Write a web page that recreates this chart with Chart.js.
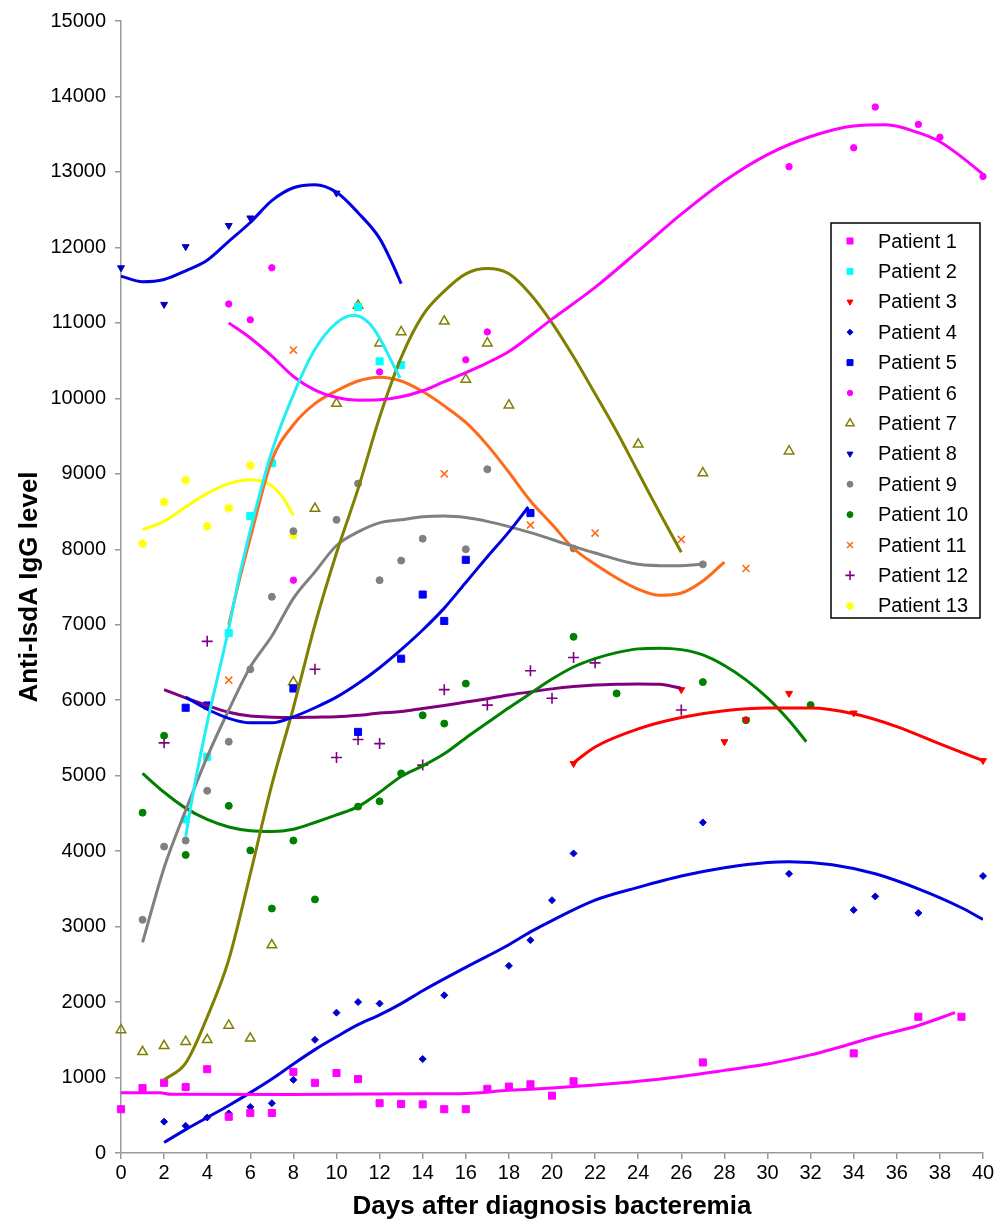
<!DOCTYPE html>
<html>
<head>
<meta charset="utf-8">
<script src="https://cdn.jsdelivr.net/npm/chart.js@4.4.0/dist/chart.umd.min.js"></script>
<style>
  html, body { margin: 0; padding: 0; background: #fff; }
  canvas { display: block; }
</style>
</head>
<body>
<canvas id="igg" width="1005" height="1225"></canvas>
<script>
// measured levels per patient, [day, level]
const patient1 = [[0,580],[1,860],[2,930],[3,875],[4,1110],[5,480],[6,530],[7,530],[8,1075],[9,930],[10,1060],[11,980],[12,660],[13,650],[14,645],[15,580],[16,580],[17,850],[18,880],[19,910],[20,760],[21,950],[27,1200],[34,1320],[37,1805],[39,1805]];
const patient2 = [[3,4420],[4,5250],[5,6890],[6,8440],[7,9140],[11,11210],[12,10490],[13,10440]];
const patient3 = [[21,5160],[26,6140],[28,5450],[29,5740],[31,6090],[34,5830],[40,5200]];
const patient4 = [[2,415],[3,360],[4,470],[5,525],[6,610],[7,660],[8,970],[9,1500],[10,1860],[11,2000],[12,1980],[14,1245],[15,2090],[18,2480],[19,2820],[20,3350],[21,3970],[27,4380],[31,3700],[34,3220],[35,3400],[37,3180],[40,3670]];
const patient5 = [[3,5900],[4,5930],[8,6155],[11,5580],[13,6550],[14,7400],[15,7050],[16,7860],[19,8480]];
const patient6 = [[5,11250],[6,11040],[7,11730],[8,7590],[12,10350],[16,10510],[17,10880],[31,13070],[34,13320],[35,13860],[37,13630],[38,13460],[40,12940]];
const patient7 = [[0,1630],[1,1340],[2,1420],[3,1475],[4,1500],[5,1690],[6,1520],[7,2755],[8,6240],[9,8540],[10,9930],[11,11230],[12,10730],[13,10880],[15,11020],[16,10250],[17,10730],[18,9910],[24,9390],[27,9010],[31,9300]];
const patient8 = [[0,11730],[2,11245],[3,12010],[5,12290],[6,12390],[10,12720]];
const patient9 = [[1,3090],[2,4060],[3,4140],[4,4800],[5,5450],[6,6410],[7,7370],[8,8240],[10,8390],[11,8870],[12,7590],[13,7850],[14,8140],[16,8000],[17,9060],[21,8010],[27,7800]];
const patient10 = [[1,4510],[2,5530],[3,3950],[5,4600],[6,4010],[7,3240],[8,4140],[9,3360],[11,4590],[12,4660],[13,5030],[14,5800],[15,5690],[16,6220],[21,6840],[23,6090],[27,6240],[29,5735],[32,5935]];
const patient11 = [[5,6265],[8,10640],[15,9000],[19,8320],[22,8215],[26,8130],[29,7745]];
const patient12 = [[2,5435],[4,6780],[9,6410],[10,5240],[11,5480],[12,5425],[14,5140],[15,6140],[17,5935],[19,6390],[20,6025],[21,6565],[22,6495],[26,5870]];
const patient13 = [[1,8075],[2,8625],[3,8915],[4,8305],[5,8545],[6,9110],[7,9145],[8,8185]];

// trendlines, [day, level]
const trend1 = [[0,800],[1.8,800],[2.3,778],[8,775],[14,785],[16,790],[18,830],[20,860],[22,900],[24,950],[26,1015],[28,1095],[30,1180],[32,1300],[33,1375],[35,1540],[37,1690],[38.7,1860]];
const trend2 = [[3,4190],[3.4,4850],[4,5700],[5,6950],[5.5,7650],[6,8250],[6.5,8800],[7,9300],[8,10050],[9,10650],[10,11000],[10.8,11100],[11.5,11000],[12,10800],[12.5,10520],[12.95,10270]];
const trend3 = [[21,5170],[22,5380],[24,5620],[26,5770],[28,5860],[30,5895],[32,5895],[34,5820],[36,5650],[38,5420],[40,5200]];
const trend4 = [[2,140],[3,310],[4,470],[5,630],[6,800],[7,980],[8,1180],[9,1370],[10,1540],[11,1700],[12,1830],[13,1980],[14,2150],[16,2460],[18,2760],[19,2930],[20,3080],[22,3350],[24,3520],[26,3670],[28,3780],[30,3850],[31,3860],[33,3820],[35,3700],[37,3500],[39,3250],[40,3095]];
const trend5 = [[3,6040],[4,5880],[5,5760],[6,5700],[7,5700],[8,5780],[9,5900],[10,6040],[11,6220],[12,6430],[13,6670],[14,6930],[15,7220],[16,7560],[17,7900],[18,8230],[18.9,8560]];
const trend6 = [[5,11000],[6,10800],[7,10560],[8,10290],[9,10110],[10,10010],[11,9975],[12,9980],[13,10020],[14,10100],[15,10220],[16,10340],[17,10470],[18,10620],[20,11050],[22,11470],[24,11950],[26,12440],[28,12880],[30,13230],[32,13470],[34,13610],[35.5,13625],[37,13520],[38,13400],[39,13200],[40,12970]];
const trend7 = [[2,970],[3,1190],[4,1800],[5,2560],[6,3700],[7,4880],[8,5900],[9,7000],[10,7950],[11,8800],[12,9750],[13,10540],[14,11100],[15,11420],[16,11650],[17,11720],[18,11650],[19,11380],[20,11000],[21,10550],[22,10060],[23,9560],[24,9020],[25,8480],[26,7960]];
const trend8 = [[0,11620],[1,11545],[2,11575],[3,11690],[4,11830],[5,12080],[6,12330],[7,12620],[8,12790],[9,12830],[10,12730],[11,12460],[12,12120],[12.6,11780],[13,11520]];
const trend9 = [[1,2790],[2,3780],[3,4540],[4,5250],[5,5870],[6,6440],[7,6850],[8,7350],[9,7700],[10,8050],[11,8230],[12,8350],[13,8390],[14,8430],[15,8440],[16,8420],[17,8370],[18,8300],[19,8220],[20,8130],[22,7950],[24,7800],[25.5,7780],[27,7800]];
const trend10 = [[1,5030],[2,4780],[3,4570],[4,4420],[5,4320],[6,4270],[7,4260],[8,4290],[9,4380],[10,4480],[11,4590],[12,4780],[13,4990],[14,5130],[15,5290],[16,5500],[17,5700],[18,5900],[19,6090],[20,6280],[21,6440],[22,6550],[23,6630],[24,6680],[25,6690],[26,6670],[27,6600],[28,6460],[29,6270],[30,6030],[31,5730],[31.8,5450]];
const trend11 = [[5,7000],[5.5,7600],[6,8150],[7,9180],[8,9650],[9,9930],[10,10100],[11,10230],[12,10280],[13,10230],[14,10090],[15,9900],[16,9680],[17,9380],[18,9020],[19,8640],[20,8330],[21,8010],[22,7800],[23,7620],[24,7470],[25,7390],[26,7420],[27,7580],[28,7830]];
const trend12 = [[2,6140],[3,6030],[4,5930],[5,5840],[6,5790],[7,5775],[8,5770],[9,5775],[10,5780],[11,5800],[12,5830],[13,5850],[14,5890],[15,5930],[16,5975],[17,6020],[18,6070],[19,6110],[20,6150],[21,6180],[22,6200],[23,6210],[24,6215],[25,6210],[26,6160]];
const trend13 = [[1,8260],[2,8370],[3,8560],[4,8740],[5,8870],[6,8920],[7,8840],[7.5,8690],[8,8450]];

const names = ['Patient 1','Patient 2','Patient 3','Patient 4','Patient 5','Patient 6','Patient 7',
               'Patient 8','Patient 9','Patient 10','Patient 11','Patient 12','Patient 13'];
const xTicks = [0, 40, 2];        // min, max, step (days)
const yTicks = [0, 15000, 1000];  // min, max, step

const points = [patient1,patient2,patient3,patient4,patient5,patient6,patient7,patient8,patient9,patient10,patient11,patient12,patient13];
const trends = [trend1,trend2,trend3,trend4,trend5,trend6,trend7,trend8,trend9,trend10,trend11,trend12,trend13];

const markColor = ['#ff00ff','#00ffff','#ff0000','#0000cc','#0000ff','#ff00ff','#808000','#0000bb','#808080','#008000','#ff6a1a','#800080','#ffff00'];
const lineColor = ['#ff00ff','#22eef5','#ff0000','#0000e0','#0000e0','#ff00ff','#808000','#0000e0','#808080','#008000','#ff6a1a','#800080','#ffff00'];
const marks = [
  {style:'rect', r:5, fill:true},
  {style:'rect', r:5, fill:true},
  {style:'triangle', r:4, fill:true, rot:180},
  {style:'rectRot', r:3.5, fill:true},
  {style:'rect', r:5, fill:true},
  {style:'circle', r:3.2, fill:true},
  {style:'triangle', r:5.5, fill:false, bw:1.5},
  {style:'triangle', r:4, fill:true, rot:180},
  {style:'circle', r:3.5, fill:true},
  {style:'circle', r:3.5, fill:true},
  {style:'crossRot', r:5, fill:false, bw:1.6},
  {style:'cross', r:5.5, fill:false, bw:1.6},
  {style:'star', r:4.5, fill:false, bw:2}
];

const font = '"Liberation Sans", Arial, sans-serif';
const toXY = arr => arr.map(([x, y]) => ({x, y}));

const datasets = [];
points.forEach((p, i) => {
  const m = marks[i];
  datasets.push({
    label: names[i],
    data: toXY(p),
    showLine: false,
    clip: false,
    pointStyle: m.style,
    pointRadius: m.r,
    pointRotation: m.rot || 0,
    pointBackgroundColor: m.fill ? markColor[i] : 'rgba(255,255,255,0)',
    pointBorderColor: markColor[i],
    pointBorderWidth: m.bw || 1,
    order: 2
  });
});
trends.forEach((t, i) => {
  datasets.push({
    label: 'trend ' + names[i],
    data: toXY(t),
    showLine: true,
    borderColor: lineColor[i],
    borderWidth: 3,
    pointRadius: 0,
    tension: 0.4,
    cubicInterpolationMode: 'monotone',
    fill: false,
    order: 1
  });
});

const legendBox = {
  id: 'legendBox',
  afterDraw(chart) {
    const ctx = chart.ctx;
    const left = 831, top = 223, w = 149, h = 395;
    ctx.save();
    ctx.fillStyle = '#fff';
    ctx.fillRect(left, top, w, h);
    ctx.strokeStyle = '#000';
    ctx.lineWidth = 1.5;
    ctx.strokeRect(left, top, w, h);
    names.forEach((n, i) => {
      const y = top + 18 + i * 30.4;
      const m = marks[i];
      ctx.fillStyle = m.fill ? markColor[i] : 'rgba(255,255,255,0)';
      ctx.strokeStyle = markColor[i];
      ctx.lineWidth = m.bw || 1;
      Chart.helpers.drawPoint(ctx, {pointStyle: m.style, radius: m.r * 0.85, rotation: m.rot || 0, borderWidth: m.bw || 1}, left + 19, y);
      ctx.fillStyle = '#000';
      ctx.font = '20px ' + font;
      ctx.textBaseline = 'middle';
      ctx.textAlign = 'left';
      ctx.fillText(n, left + 47, y + 1);
    });
    ctx.restore();
  }
};

new Chart(document.getElementById('igg'), {
  type: 'scatter',
  data: { datasets },
  options: {
    responsive: false,
    animation: false,
    devicePixelRatio: 1,
    layout: { padding: { top: 20, right: 22, left: 0, bottom: 0 } },
    plugins: { legend: { display: false }, tooltip: { enabled: false } },
    scales: {
      x: {
        type: 'linear',
        min: xTicks[0], max: xTicks[1],
        afterFit: s => { s.height = 72; },
        ticks: { stepSize: xTicks[2], color: '#000', font: { family: font, size: 20 }, padding: 2, maxRotation: 0 },
        grid: { drawOnChartArea: false, color: '#999', tickLength: 6, lineWidth: 1.5 },
        border: { color: '#999', width: 1.5 },
        title: { display: true, text: 'Days after diagnosis bacteremia', color: '#000',
                 font: { family: font, size: 26, weight: 'bold' }, padding: { top: 0, bottom: 3 } }
      },
      y: {
        type: 'linear',
        min: yTicks[0], max: yTicks[1],
        afterFit: s => { s.width = 121; },
        ticks: { stepSize: yTicks[2], color: '#000', font: { family: font, size: 20 }, padding: 9,
                 callback: v => String(v) },
        grid: { drawOnChartArea: false, color: '#999', tickLength: 6, lineWidth: 1.5 },
        border: { color: '#999', width: 1.5 },
        title: { display: true, text: 'Anti-IsdA IgG level', color: '#000',
                 font: { family: font, size: 26, weight: 'bold' }, padding: { top: 14, bottom: 0 } }
      }
    }
  },
  plugins: [legendBox]
});
</script>
</body>
</html>
